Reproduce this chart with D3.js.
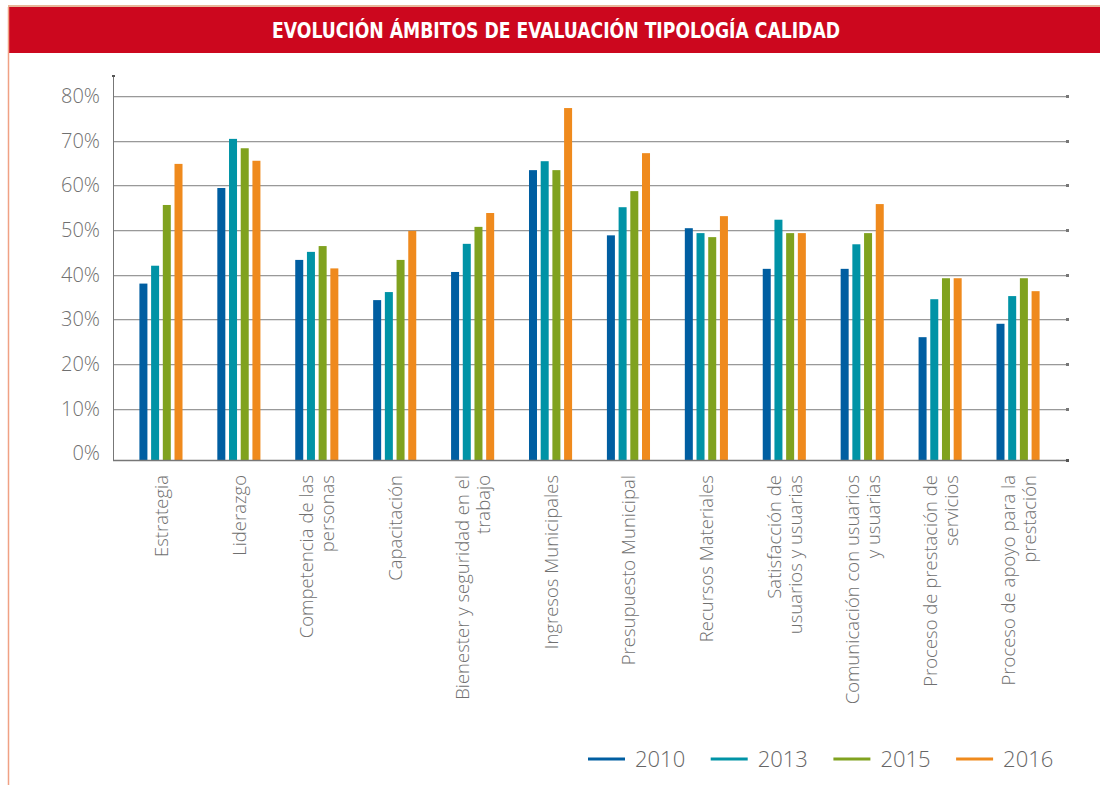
<!DOCTYPE html>
<html>
<head>
<meta charset="utf-8">
<script src="https://cdn.jsdelivr.net/npm/d3@7"></script>
<style>
  body { margin: 0; background: #fff; }
  svg { display: block; }
</style>
</head>
<body>
<div id="root"></div>
<script>
const title = "EVOLUCIÓN ÁMBITOS DE EVALUACIÓN TIPOLOGÍA CALIDAD";
const categories = [
  ["Estrategia"],
  ["Liderazgo"],
  ["Competencia de las", "personas"],
  ["Capacitación"],
  ["Bienester y seguridad en el", "trabajo"],
  ["Ingresos Municipales"],
  ["Presupuesto Municipal"],
  ["Recursos Materiales"],
  ["Satisfacción de", "usuarios y usuarias"],
  ["Comunicación con usuarios", "y usuarias"],
  ["Proceso de prestación de", "servicios"],
  ["Proceso de apoyo para la", "prestación"]
];
const years = ["2010", "2013", "2015", "2016"];
const v2010 = [38, 59.4, 43.3, 34.3, 40.6, 63.4, 48.8, 50.4, 41.3, 41.3, 26, 29];
const v2013 = [42, 70.4, 45.1, 36.1, 46.9, 65.4, 55.1, 49.3, 52.3, 46.8, 34.5, 35.2];
const v2015 = [55.6, 68.3, 46.4, 43.3, 50.7, 63.4, 58.7, 48.4, 49.3, 49.3, 39.2, 39.2];
const v2016 = [64.8, 65.5, 41.4, 49.8, 53.8, 77.3, 67.2, 53.1, 49.3, 55.8, 39.2, 36.3];
const yTicks = [0, 10, 20, 30, 40, 50, 60, 70, 80];
const colors = ["#005ea1", "#0093a6", "#80a21f", "#ef8a1d"];

const series = [v2010, v2013, v2015, v2016];
const width = 1100, height = 785;
const font = "'Open Sans', sans-serif";

const svg = d3.select("#root").append("svg")
  .attr("width", width)
  .attr("height", height);

// header band and page frame
svg.append("rect").attr("x", 8).attr("y", 5).attr("width", width - 8).attr("height", 2).attr("fill", "#e7b79a");
svg.append("rect").attr("x", 8).attr("y", 7).attr("width", width - 8).attr("height", 46).attr("fill", "#cc071e");
svg.append("line").attr("x1", 8.5).attr("x2", 8.5).attr("y1", 7).attr("y2", height)
  .attr("stroke", "#f0a184").attr("stroke-width", 1.5);
svg.append("text")
  .attr("x", 556).attr("y", 38)
  .attr("text-anchor", "middle")
  .attr("fill", "#fff")
  .attr("font-family", "'Liberation Sans Narrow', 'DejaVu Sans Condensed', sans-serif")
  .attr("font-weight", "bold")
  .attr("font-size", 21)
  .attr("textLength", 568)
  .attr("lengthAdjust", "spacingAndGlyphs")
  .text(title);

const left = 113, right = 1067, bottom = 460;

const y = d3.scaleLinear().domain([-1.5, 80]).range([bottom, 96]);
const x0 = d3.scaleBand().domain(d3.range(categories.length)).range([122, 1057]);
const x1 = d3.scaleBand().domain(years).range([-23.4, 23.4]).paddingInner(0.316).paddingOuter(0.158);

// gridlines
const grid = svg.append("g");
yTicks.filter(t => t > 0).forEach(t => {
  grid.append("line")
    .attr("x1", left).attr("x2", right)
    .attr("y1", Math.round(y(t)) + 1.5).attr("y2", Math.round(y(t)) + 1.5)
    .attr("stroke", "#e3e3e3").attr("stroke-width", 1);
  grid.append("line")
    .attr("x1", left).attr("x2", right)
    .attr("y1", Math.round(y(t)) + 0.5).attr("y2", Math.round(y(t)) + 0.5)
    .attr("stroke", "#999").attr("stroke-width", 1.2);
  grid.append("rect")
    .attr("x", right - 1).attr("y", Math.round(y(t)) - 1)
    .attr("width", 3).attr("height", 3).attr("fill", "#777");
});

// y tick labels
const yAxis = d3.axisLeft(y).tickValues(yTicks).tickSize(0).tickPadding(13).tickFormat(d => d + "%");
const gy = svg.append("g").attr("transform", `translate(${left},0)`).call(yAxis);
gy.select(".domain").remove();
gy.selectAll("text")
  .attr("font-family", font).attr("font-weight", 300)
  .attr("font-size", 20).attr("fill", "#707070");

// y axis line
svg.append("line").attr("x1", left + 0.5).attr("x2", left + 0.5).attr("y1", 76).attr("y2", bottom)
  .attr("stroke", "#777").attr("stroke-width", 1);
svg.append("rect").attr("x", left - 1).attr("y", 75).attr("width", 3).attr("height", 2).attr("fill", "#555");

// bars
const groups = svg.append("g").selectAll("g")
  .data(categories)
  .join("g")
  .attr("transform", (d, i) => `translate(${x0(i) + x0.bandwidth() / 2},0)`);

groups.selectAll("rect")
  .data((d, i) => series.map((s, k) => ({ year: years[k], value: s[i], k })))
  .join("rect")
  .attr("x", d => x1(d.year))
  .attr("width", x1.bandwidth())
  .attr("y", d => y(d.value))
  .attr("height", d => bottom - y(d.value))
  .attr("fill", d => colors[d.k]);

// x axis line
svg.append("line").attr("x1", left).attr("x2", right).attr("y1", bottom + 0.5).attr("y2", bottom + 0.5)
  .attr("stroke", "#777").attr("stroke-width", 1.5);
svg.append("rect").attr("x", right - 1).attr("y", bottom - 1).attr("width", 3).attr("height", 3).attr("fill", "#555");

// category labels, rotated
groups.each(function(lines) {
  const g = d3.select(this);
  const n = lines.length;
  lines.forEach((line, j) => {
    const dx = (j - (n - 1) / 2) * 21;
    g.append("text")
      .attr("transform", `translate(${dx + 7},${bottom + 15}) rotate(-90)`)
      .attr("text-anchor", "end")
      .attr("font-family", font).attr("font-weight", 300)
      .attr("font-size", 18.5).attr("fill", "#707070")
      .text(line);
  });
});

// legend
const legend = svg.append("g").selectAll("g")
  .data(years)
  .join("g")
  .attr("transform", (d, i) => `translate(${588 + i * 122.7},759)`);
legend.append("line").attr("x1", 0).attr("x2", 37).attr("y1", 0).attr("y2", 0)
  .attr("stroke", (d, i) => colors[i]).attr("stroke-width", 3);
legend.append("text")
  .attr("x", 47).attr("y", 8)
  .attr("font-family", font).attr("font-weight", 300)
  .attr("font-size", 22).attr("fill", "#666")
  .text(d => d);
</script>
</body>
</html>
